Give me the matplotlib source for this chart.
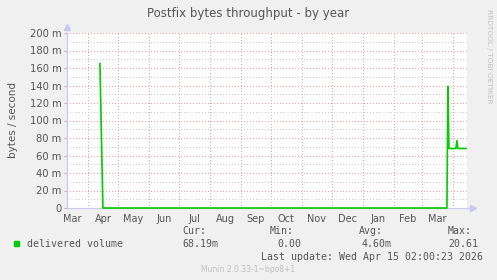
import matplotlib
matplotlib.use("Agg")
import matplotlib.pyplot as plt
import matplotlib.dates as mdates
import numpy as np
from datetime import datetime

##### Data #####
dates = ["2025-04-13", "2025-04-16", "2026-03-26", "2026-03-27", "2026-03-28",
         "2026-04-04", "2026-04-05", "2026-04-06", "2026-04-14"]
values_milli = [165, 0, 0, 139, 68, 68, 77, 68, 68]

start = datetime(2025, 3, 11, 2, 0)
end = datetime(2026, 4, 15, 2, 0)
month_starts = ["2025-04-01", "2025-05-01", "2025-06-01", "2025-07-01", "2025-08-01",
                "2025-09-01", "2025-10-01", "2025-11-01", "2025-12-01", "2026-01-01",
                "2026-02-01", "2026-03-01", "2026-04-01"]
month_labels = ["Mar", "Apr", "May", "Jun", "Jul", "Aug", "Sep", "Oct", "Nov", "Dec",
                "Jan", "Feb", "Mar"]
y_ticks = [0, 20, 40, 60, 80, 100, 120, 140, 160, 180, 200]

legend_name = "delivered volume"
stats = [("Cur:", "68.19m"), ("Min:", "0.00"), ("Avg:", "4.60m"), ("Max:", "20.61")]
last_update = "Last update: Wed Apr 15 02:00:23 2026"

##### Graphics #####
plt.rcParams['lines.scale_dashes'] = False
bg = "#F0F0F0"
txt = "#555555"
green = "#00CC00"
red_grid = "#F0A0A0"
grey_grid = "#CCCCCC"
fig = plt.figure(figsize=(4.97, 2.80), dpi=100, facecolor=bg)
ax = fig.add_axes([67/497, 1 - 208/280, 400/497, 175/280])
ax.set_facecolor("white")

x = [datetime.strptime(d, "%Y-%m-%d") for d in dates]
ax.plot(x, values_milli, color=green, lw=1.2, zorder=10, clip_on=False)

ax.set_xlim(start, end)
ax.set_ylim(0, 200)

# grid (dotted: 1 px on, 2 px off)
dot = (0.36, (0.72, 1.44))
grid_kw = dict(lw=0.72, ls=dot, antialiased=True, snap=True, zorder=1)
ms = [mdates.date2num(datetime.strptime(d, "%Y-%m-%d")) for d in month_starts]
for m in ms:
    ax.axvline(m, color=red_grid, **grid_kw)
for v in range(10, 200, 20):
    ax.axhline(v, color=grey_grid, **grid_kw)
for v in y_ticks[1:]:
    ax.axhline(v, color=red_grid, **grid_kw)

# x labels centred in each month
edges = [ms[0] - 31] + ms + [ms[-1] + 30]
mids = [(edges[i] + edges[i + 1]) / 2 for i in range(len(month_labels))]
ax.set_xticks(mids)
ax.set_xticklabels(month_labels)
ax.tick_params(axis="x", length=0, pad=4, labelsize=7, labelcolor=txt)

ax.set_yticks(y_ticks)
ax.set_yticklabels([f"{v} m" if v else "0" for v in y_ticks])
ax.tick_params(axis="y", length=2, width=0.8, color=red_grid, pad=2,
               labelsize=7.2, labelcolor=txt)

for s in ["top", "right"]:
    ax.spines[s].set_visible(False)
for s in ["left", "bottom"]:
    ax.spines[s].set_color("#C8C8F0")
    ax.spines[s].set_linewidth(0.9)
ax.plot([0], [1.0 + 6/175], marker="^", color="#C8C8F0", ms=4,
        transform=ax.transAxes, clip_on=False)
ax.plot([1.0 + 6/400, 1.0], [0, 0], color="#C8C8F0", lw=0.9,
        transform=ax.transAxes, clip_on=False)
ax.plot([1.0 + 6/400], [0], marker=">", color="#C8C8F0", ms=4,
        transform=ax.transAxes, clip_on=False)

ax.set_ylabel("bytes / second", fontsize=7.5, color=txt)
ax.yaxis.set_label_coords(-49/400, 0.5)

fig.text(248/497, 1 - 13/280, "Postfix bytes throughput - by year",
         ha="center", va="center", fontsize=8.5, color=txt)
fig.text(489/497, 1 - 56/280, "RRDTOOL / TOBI OETIKER", rotation=270,
         ha="center", va="center", fontsize=5.3, color="#C0C0C0")

# legend
mono = "DejaVu Sans Mono"
fig.patches.append(plt.Rectangle((14/497, 1 - 246/280), 5/497, 5/280,
                                 transform=fig.transFigure, color=green))
fig.text(27/497, 1 - 244/280, legend_name, family=mono, fontsize=7.1,
         color=txt, va="center")
stat_x = [(182, 182), (270, 277), (359, 362), (448, 448)]
for (lab, val), (lx, vx) in zip(stats, stat_x):
    fig.text(lx/497, 1 - 231/280, lab, family=mono, fontsize=7.1, color=txt, va="center")
    fig.text(vx/497, 1 - 244/280, val, family=mono, fontsize=7.1, color=txt, va="center")
fig.text(261/497, 1 - 257/280, last_update, family=mono, fontsize=7.1,
         color=txt, va="center")
fig.text(248/497, 1 - 270/280, "Munin 2.0.33-1~bpo8+1", fontsize=5.5,
         color="#C0C0C0", ha="center", va="center")

fig.savefig("out.png", dpi=100, facecolor=bg)
